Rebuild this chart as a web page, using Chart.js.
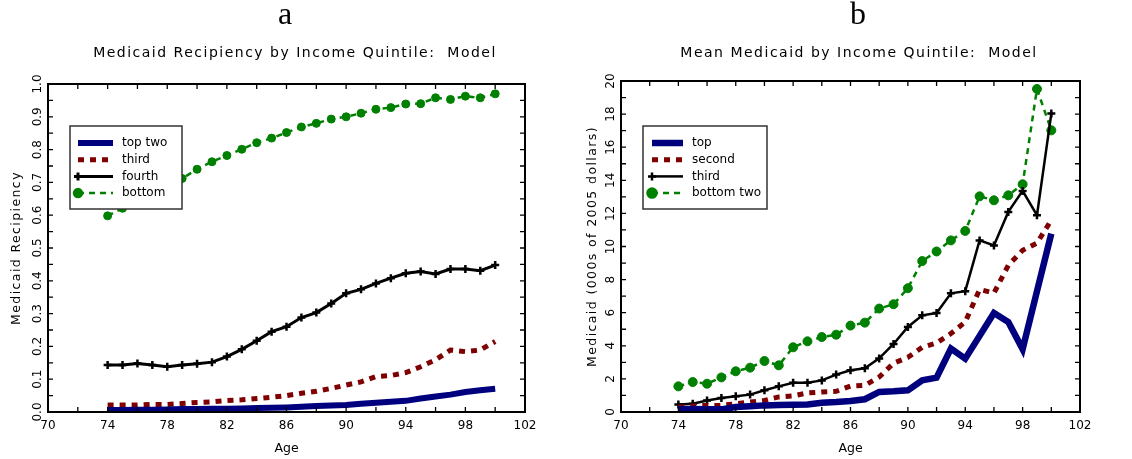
<!DOCTYPE html>
<html>
<head>
<meta charset="utf-8">
<script src="https://cdn.jsdelivr.net/npm/chart.js@4.4.1/dist/chart.umd.min.js"></script>
<style>
  html, body { margin: 0; padding: 0; background: #fff; }
  #wrap { position: relative; width: 1132px; height: 459px; }
  #left { position: absolute; left: 0; top: 0; }
  #right { position: absolute; left: 580px; top: 0; }
</style>
</head>
<body>
<div id="wrap">
  <canvas id="left" width="580" height="459"></canvas>
  <canvas id="right" width="552" height="459"></canvas>
</div>
<script>
// ages 74..100 (same for both panels)
const ages = [74, 75, 76, 77, 78, 79, 80, 81, 82, 83, 84, 85, 86, 87, 88, 89, 90, 91, 92, 93, 94, 95, 96, 97, 98, 99, 100];
const xTicks = [70, 74, 78, 82, 86, 90, 94, 98, 102];

// panel a: medicaid recipiency (share)
const recTopTwo = [0.006, 0.006, 0.007, 0.007, 0.008, 0.009, 0.009, 0.010, 0.010, 0.011, 0.012, 0.013, 0.014, 0.016, 0.018, 0.020, 0.021, 0.025, 0.028, 0.031, 0.034, 0.041, 0.047, 0.053, 0.061, 0.066, 0.071];
const recThird = [0.021, 0.021, 0.021, 0.023, 0.023, 0.026, 0.029, 0.031, 0.035, 0.037, 0.041, 0.045, 0.050, 0.057, 0.063, 0.072, 0.082, 0.092, 0.108, 0.111, 0.120, 0.138, 0.159, 0.189, 0.184, 0.189, 0.215];
const recFourth = [0.143, 0.143, 0.148, 0.143, 0.138, 0.143, 0.147, 0.152, 0.169, 0.191, 0.217, 0.245, 0.260, 0.288, 0.303, 0.331, 0.362, 0.374, 0.392, 0.408, 0.423, 0.428, 0.421, 0.436, 0.436, 0.431, 0.448];
const recBottom = [0.598, 0.621, 0.645, 0.670, 0.692, 0.712, 0.740, 0.763, 0.782, 0.801, 0.821, 0.835, 0.852, 0.869, 0.880, 0.893, 0.900, 0.911, 0.923, 0.928, 0.939, 0.940, 0.958, 0.953, 0.963, 0.958, 0.970];

// panel b: mean medicaid, 000s of 2005 dollars
const amtTop = [0.17, 0.18, 0.17, 0.16, 0.30, 0.35, 0.40, 0.43, 0.44, 0.46, 0.56, 0.60, 0.66, 0.77, 1.21, 1.25, 1.31, 1.92, 2.08, 3.83, 3.22, 4.60, 5.98, 5.44, 3.80, 7.30, 10.78];
const amtSecond = [0.30, 0.36, 0.40, 0.40, 0.50, 0.60, 0.70, 0.91, 0.97, 1.15, 1.21, 1.25, 1.57, 1.61, 2.11, 2.95, 3.30, 3.91, 4.17, 4.74, 5.44, 7.40, 7.19, 8.86, 9.77, 10.21, 11.60];
const amtThird = [0.46, 0.50, 0.70, 0.85, 0.95, 1.05, 1.31, 1.55, 1.77, 1.77, 1.91, 2.26, 2.52, 2.64, 3.24, 4.11, 5.14, 5.84, 5.98, 7.17, 7.30, 10.37, 10.06, 12.09, 13.36, 11.89, 18.03];
const amtBottomTwo = [1.55, 1.81, 1.71, 2.09, 2.46, 2.68, 3.08, 2.82, 3.91, 4.27, 4.53, 4.67, 5.22, 5.40, 6.25, 6.51, 7.48, 9.12, 9.70, 10.37, 10.94, 13.03, 12.79, 13.09, 13.76, 19.52, 17.02];

const FONT = 'DejaVu Sans';

function pts(vals) {
    return ages.map((a, i) => ({ x: a, y: vals[i] }));
}

// frame + inward major/minor ticks on all four sides
const framePlugin = {
    id: 'frameTicks',
    afterDatasetsDraw(chart, args, opts) {
        const ctx = chart.ctx;
        const a = chart.chartArea;
        const xs = chart.scales.x, ys = chart.scales.y;
        ctx.save();
        ctx.strokeStyle = '#000';
        ctx.lineWidth = 1.3;
        const len = 5;
        const nx = Math.round((xs.max - xs.min) / opts.xMinor);
        for (let i = 0; i <= nx; i++) {
            const px = xs.getPixelForValue(xs.min + i * opts.xMinor);
            ctx.beginPath();
            ctx.moveTo(px, a.bottom); ctx.lineTo(px, a.bottom - len);
            ctx.moveTo(px, a.top); ctx.lineTo(px, a.top + len);
            ctx.stroke();
        }
        const ny = Math.round((ys.max - ys.min) / opts.yMinor);
        for (let i = 0; i <= ny; i++) {
            const py = ys.getPixelForValue(ys.min + i * opts.yMinor);
            ctx.beginPath();
            ctx.moveTo(a.left, py); ctx.lineTo(a.left + len, py);
            ctx.moveTo(a.right, py); ctx.lineTo(a.right - len, py);
            ctx.stroke();
        }
        ctx.lineWidth = 2;
        ctx.strokeRect(a.left, a.top, a.right - a.left, a.bottom - a.top);
        ctx.restore();
    }
};

// boxed legend inside the plot
const boxLegend = {
    id: 'boxLegend',
    afterDraw(chart, args, o) {
        const ctx = chart.ctx;
        ctx.save();
        ctx.fillStyle = '#fff';
        ctx.fillRect(o.x, o.y, o.w, o.h);
        ctx.strokeStyle = '#333';
        ctx.lineWidth = 1.5;
        ctx.strokeRect(o.x, o.y, o.w, o.h);
        ctx.font = '12px "' + FONT + '"';
        ctx.textBaseline = 'middle';
        chart.data.datasets.forEach((ds, i) => {
            const y = o.y + o.row0 + i * o.rowStep;
            ctx.strokeStyle = ds.borderColor;
            ctx.lineWidth = ds.borderWidth;
            ctx.setLineDash(ds.borderDash || []);
            ctx.beginPath();
            ctx.moveTo(o.x + o.s0, y);
            ctx.lineTo(o.x + o.s1, y);
            ctx.stroke();
            ctx.setLineDash([]);
            if (ds.pointRadius > 0) {
                ctx.fillStyle = ds.pointBackgroundColor;
                ctx.strokeStyle = ds.borderColor;
                Chart.helpers.drawPoint(ctx, {
                    pointStyle: ds.pointStyle,
                    radius: ds.pointRadius,
                    borderWidth: ds.pointBorderWidth || 1,
                    rotation: 0
                }, o.x + o.s0, y);
                if (ds.pointStyle === 'circle') {
                    ctx.beginPath();
                    ctx.arc(o.x + o.s0, y, ds.pointRadius, 0, Math.PI * 2);
                    ctx.fill();
                }
            }
            ctx.fillStyle = '#000';
            ctx.fillText(ds.label, o.x + o.tx, y);
        });
        ctx.restore();
    }
};

// panel letter, heading and y-axis title (wide-spaced lettering)
const headings = {
    id: 'headings',
    afterDraw(chart, args, o) {
        const ctx = chart.ctx;
        const a = chart.chartArea;
        ctx.save();
        ctx.fillStyle = '#000';
        ctx.textAlign = 'center';
        ctx.textBaseline = 'alphabetic';
        ctx.font = '32px "Liberation Serif"';
        ctx.fillText(o.letter, o.letterX, 24);
        ctx.letterSpacing = '1.5px';
        ctx.font = '14px "' + FONT + '"';
        ctx.fillText(o.title, o.titleX, 57);
        ctx.letterSpacing = '1.4px';
        ctx.font = '12.5px "' + FONT + '"';
        ctx.textBaseline = 'middle';
        ctx.translate(o.yTitleX, (a.top + a.bottom) / 2);
        ctx.rotate(-Math.PI / 2);
        ctx.fillText(o.yTitle, 0, 0);
        ctx.restore();
    }
};

function makeChart(id, cfg) {
    return new Chart(document.getElementById(id), {
        type: 'line',
        data: { datasets: cfg.datasets },
        options: {
            responsive: false,
            animation: false,
            layout: { padding: { left: 0, right: cfg.padRight, top: cfg.padTop, bottom: 0 } },
            elements: { line: { tension: 0 } },
            plugins: {
                legend: { display: false },
                tooltip: { enabled: false },
                frameTicks: cfg.ticks,
                boxLegend: cfg.legend,
                headings: cfg.headings
            },
            scales: {
                x: {
                    type: 'linear', min: 70, max: 102,
                    afterBuildTicks: s => { s.ticks = xTicks.map(v => ({ value: v })); },
                    afterFit: s => { s.height = 47; },
                    grid: { display: false, drawTicks: false },
                    border: { display: false },
                    ticks: { color: '#000', padding: 7, maxRotation: 0, font: { family: FONT, size: 12 } },
                    title: { display: true, text: 'Age', color: '#000', padding: { top: 0, bottom: 3 }, font: { family: FONT, size: 12.5 } }
                },
                y: {
                    min: cfg.yMin, max: cfg.yMax,
                    afterBuildTicks: s => { s.ticks = cfg.yTicks.map(v => ({ value: v })); },
                    afterFit: s => { s.width = cfg.yWidth; },
                    grid: { display: false, drawTicks: false },
                    border: { display: false },
                    ticks: {
                        color: '#000', minRotation: 90, maxRotation: 90, crossAlign: 'center',
                        padding: cfg.yTickPad, font: { family: FONT, size: 12 },
                        callback: cfg.yFmt
                    },
                    title: { display: false }
                }
            }
        },
        plugins: [framePlugin, boxLegend, headings]
    });
}

const NAVY = '#00007f', RED = '#7f0000', GREEN = '#008000';

makeChart('left', {
    padTop: 84,
    padRight: 55,
    yMin: 0, yMax: 1,
    yTicks: [0, 0.1, 0.2, 0.3, 0.4, 0.5, 0.6, 0.7, 0.8, 0.9, 1.0],
    yFmt: v => v.toFixed(1),
    yWidth: 48, yTickPad: 1,
    headings: { letter: 'a', letterX: 285, title: 'Medicaid Recipiency by Income Quintile:  Model', titleX: 295, yTitle: 'Medicaid Recipiency', yTitleX: 17 },
    ticks: { xMinor: 2, yMinor: 0.05 },
    legend: { x: 70, y: 126, w: 112, h: 83, row0: 17, rowStep: 16.7, s0: 8, s1: 43, tx: 52 },
    datasets: [
        { label: 'top two', data: pts(recTopTwo), borderColor: NAVY, borderWidth: 6, pointRadius: 0 },
        { label: 'third', data: pts(recThird), borderColor: RED, borderWidth: 5, borderDash: [6, 6], pointRadius: 0 },
        { label: 'fourth', data: pts(recFourth), borderColor: '#000', borderWidth: 3, pointStyle: 'cross', pointRadius: 4, pointBorderWidth: 2.5, pointBackgroundColor: '#000' },
        { label: 'bottom', data: pts(recBottom), borderColor: GREEN, borderWidth: 2.5, borderDash: [6, 5], pointStyle: 'circle', pointRadius: 4, pointBorderWidth: 1, pointBackgroundColor: GREEN }
    ]
});

makeChart('right', {
    padTop: 81,
    padRight: 52,
    yMin: 0, yMax: 20,
    yTicks: [0, 2, 4, 6, 8, 10, 12, 14, 16, 18, 20],
    yFmt: v => String(v),
    yWidth: 41, yTickPad: 2,
    headings: { letter: 'b', letterX: 278, title: 'Mean Medicaid by Income Quintile:  Model', titleX: 279, yTitle: 'Medicaid (000s of 2005 dollars)', yTitleX: 13 },
    ticks: { xMinor: 2, yMinor: 1 },
    legend: { x: 63, y: 126, w: 124, h: 83, row0: 17, rowStep: 16.7, s0: 9, s1: 40, tx: 49 },
    datasets: [
        { label: 'top', data: pts(amtTop), borderColor: NAVY, borderWidth: 6.5, pointRadius: 0 },
        { label: 'second', data: pts(amtSecond), borderColor: RED, borderWidth: 5, borderDash: [6, 6], pointRadius: 0 },
        { label: 'third', data: pts(amtThird), borderColor: '#000', borderWidth: 2.5, pointStyle: 'cross', pointRadius: 4, pointBorderWidth: 2.5, pointBackgroundColor: '#000' },
        { label: 'bottom two', data: pts(amtBottomTwo), borderColor: GREEN, borderWidth: 2.5, borderDash: [6, 5], pointStyle: 'circle', pointRadius: 4.5, pointBorderWidth: 1, pointBackgroundColor: GREEN }
    ]
});
</script>
</body>
</html>
